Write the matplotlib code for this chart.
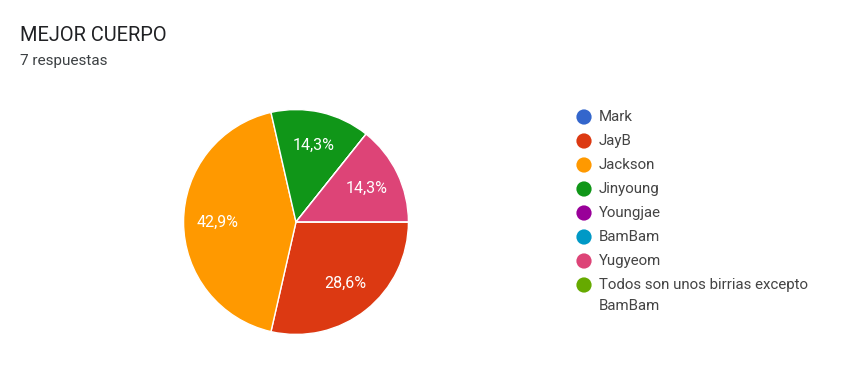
import matplotlib
matplotlib.use("Agg")
import matplotlib.pyplot as plt

title = "MEJOR CUERPO"
subtitle = "7 respuestas"
categories = ["Mark", "JayB", "Jackson", "Jinyoung", "Youngjae", "BamBam", "Yugyeom",
              "Todos son unos birrias excepto\nBamBam"]
counts = [0, 2, 3, 1, 0, 0, 1, 0]
colors = ["#3366cc", "#dc3912", "#ff9900", "#109618", "#990099", "#0099c6", "#dd4477", "#66aa00"]

W, H = 844, 370
fig = plt.figure(figsize=(W / 100, H / 100), dpi=100)
fig.patch.set_facecolor("white")
plt.rcParams['font.family'] = ['Roboto', 'DejaVu Sans']

# Pie axes (pixel placement)
cx, cy, r = 296, 222, 113
pax = fig.add_axes([(cx - r) / W, (H - cy - r) / H, 2 * r / W, 2 * r / H])

def fmt(p):
    if p <= 0:
        return ""
    return f"{p:.1f}".replace(".", ",") + "%"

wedges, texts, autotexts = pax.pie(
    counts, colors=colors, startangle=0, counterclock=False, radius=1,
    autopct=fmt, pctdistance=0.70,
    wedgeprops=dict(edgecolor="white", linewidth=1.0),
    textprops=dict(color="white", fontsize=11.5, family=['Roboto', 'DejaVu Sans']))
pax.set_xlim(-1.005, 1.005)
pax.set_ylim(-1.005, 1.005)
pax.set_aspect("equal")
pax.axis("off")

# Overlay axes in pixel coordinates for text and legend
ov = fig.add_axes([0, 0, 1, 1], zorder=-1)
ov.set_xlim(0, W)
ov.set_ylim(H, 0)
ov.axis("off")

ov.text(20, 41, title, fontsize=14.4, color="#202124", va="baseline", ha="left")
ov.text(20, 65.5, subtitle, fontsize=11, color="#3c4043", va="baseline", ha="left")

leg_x, leg_y0, step = 584, 117, 24
for i, (cat, col) in enumerate(zip(categories, colors)):
    y = leg_y0 + i * step
    ov.scatter([leg_x], [y], s=120, color=col, edgecolors="none")
    lines = cat.split("\n")
    for j, line in enumerate(lines):
        ov.text(599, y + j * 20.5, line, fontsize=10.8, color="#444444",
                va="center", ha="left")

fig.savefig("out.png", dpi=100, facecolor="white")
